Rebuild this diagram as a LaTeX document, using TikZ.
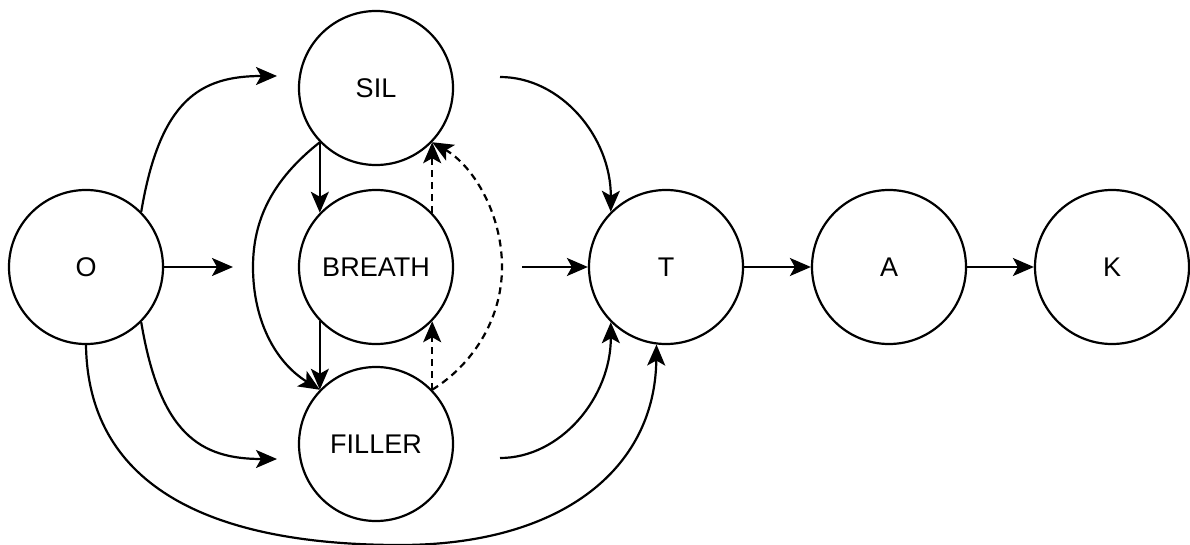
\documentclass[tikz,border=0pt]{standalone}
\usepackage{fontspec}
\setmainfont{Liberation Sans}
\usetikzlibrary{arrows.meta}
\begin{document}
\begin{tikzpicture}[x=1pt,y=-1pt,
  state/.style={circle,draw,line width=2.2pt,minimum size=154pt,inner sep=0pt,
    font=\fontsize{27}{31}\selectfont},
  edge/.style={line width=2.2pt,-{Stealth[length=21pt,width=18pt,inset=5pt]}},
  dedge/.style={edge,dash pattern=on 7pt off 5pt}]
\useasboundingbox (0,0) rectangle (1190,545);
\node[state] (O) at (86,267) {O};
\node[state] (SIL) at (376,88) {SIL};
\node[state] (BR) at (376,267) {BREATH};
\node[state] (FI) at (376,444) {FILLER};
\node[state] (T) at (666,267) {T};
\node[state] (A) at (889,267) {A};
\node[state] (K) at (1112,267) {K};
% invisible group ports
\coordinate (gl1) at (277,76);
\coordinate (gl2) at (233,267);
\coordinate (gl3) at (277,459);
\coordinate (gr1) at (500,77);
\coordinate (gr2) at (522,267);
\coordinate (gr3) at (500,458);
% from O
\draw[edge] (O.45) .. controls (160,100) and (200,76) .. (gl1);
\draw[edge] (O.east) -- (gl2);
\draw[edge] (O.-45) .. controls (160,434) and (200,459) .. (gl3);
\draw[edge] (O.south) .. controls (88,480) and (200,545) .. (400,545)
  .. controls (560,545) and (655,470) .. (T.-97);
% to T
\draw[edge] (gr1) .. controls (561,77) and (611,137) .. (T.135);
\draw[edge] (gr2) -- (T.west);
\draw[edge] (gr3) .. controls (561,458) and (611,397) .. (T.-135);
\draw[edge] (T.east) -- (A.west);
\draw[edge] (A.east) -- (K.west);
% inside group
\draw[edge] (SIL.-136) -- (BR.136);
\draw[edge] (BR.-136) -- (FI.136);
\draw[edge] (SIL.-136) .. controls (272,180) and (253,220) .. (253,267)
  .. controls (253,320) and (275,362) .. (FI.136);
\draw[dedge] (FI.44) -- (BR.-44);
\draw[dedge] (BR.44) -- (SIL.-44);
\draw[dedge] (FI.44) .. controls (472,365) and (502,320) .. (502,267)
  .. controls (502,212) and (472,165) .. (SIL.-44);
\end{tikzpicture}
\end{document}
